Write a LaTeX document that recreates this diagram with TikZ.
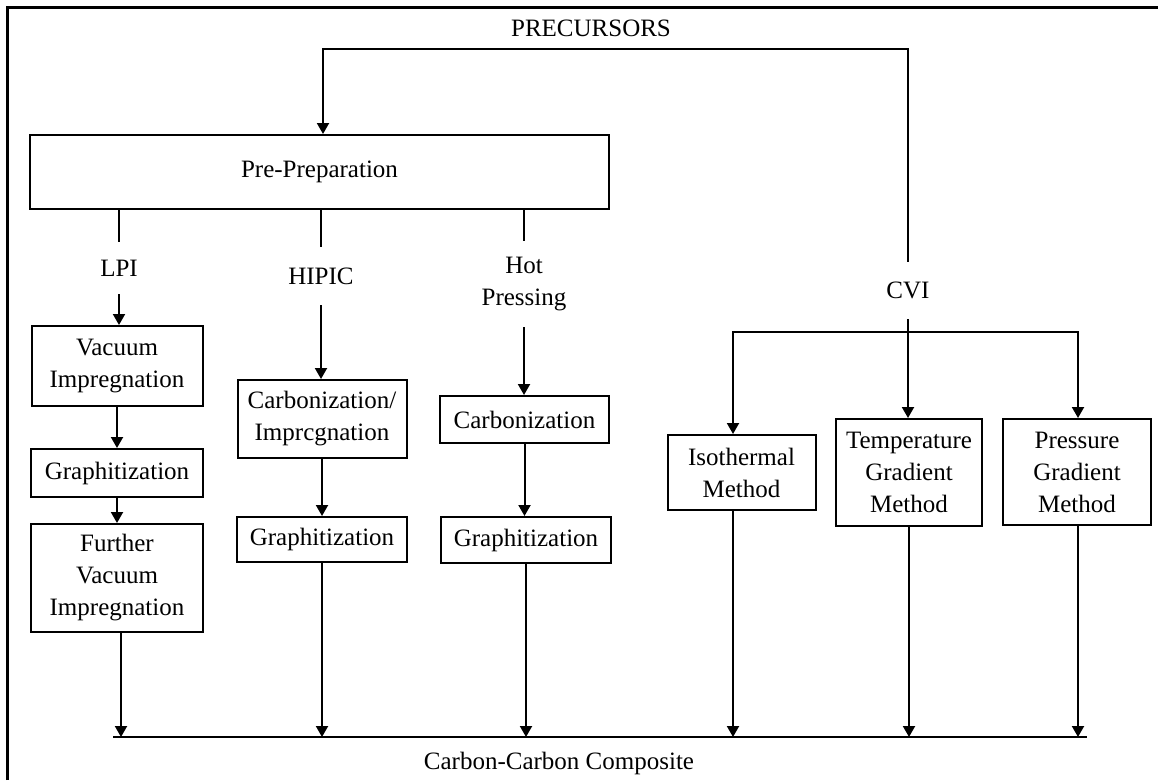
\documentclass[tikz,border=0pt]{standalone}
\usepackage{fontspec}
\setmainfont{Liberation Serif}
\usetikzlibrary{arrows.meta,calc}
\begin{document}
\begin{tikzpicture}[x=1pt,y=-1pt,
  every node/.style={font=\fontsize{25}{32}\selectfont},
  box/.style={draw, line width=2pt, inner sep=0pt, align=center, anchor=center},
  lab/.style={inner sep=0pt, align=center},
  conn/.style={line width=2pt},
  arr/.style={line width=2pt, -{Triangle[length=11pt,width=12pt]}},
]
\useasboundingbox (0,0) rectangle (1158,780);
\draw[line width=3pt] (7,780) -- (7,7) -- (1158,7);

% labels
\node[lab] (prec) at (591,28) {PRECURSORS};
\node[lab, minimum height=52pt] (lpi) at (119,268) {LPI};
\node[lab, minimum height=58pt] (hipic) at (321,276) {HIPIC};
\node[lab, minimum height=86pt] (hot) at (524,284) {Hot\\Pressing};
\node[lab, minimum height=57pt] (cvi) at (908,290.5) {CVI};
\node[lab] (ccc) at (559,763) {Carbon-Carbon Composite};

% boxes
\node[box, minimum width=171pt, minimum height=80pt] (vi) at (117,366) {Vacuum\\Impregnation};
\node[box, minimum width=579pt, minimum height=74pt] (pre) at (319.5,172) {Pre-Preparation};
\node[box, minimum width=172pt, minimum height=48pt] (g1) at (117,473) {Graphitization};
\node[box, minimum width=172pt, minimum height=108pt] (fvi) at (117,578) {Further\\Vacuum\\Impregnation};
\node[box, minimum width=169pt, minimum height=78pt] (ci) at (322,419) {Carbonization/\\Imprcgnation};
\node[box, minimum width=170pt, minimum height=45pt] (g2) at (322,539.5) {Graphitization};
\node[box, minimum width=169pt, minimum height=47pt] (cb) at (524.5,419.5) {Carbonization};
\node[box, minimum width=170pt, minimum height=46pt] (g3) at (526,540) {Graphitization};
\node[box, minimum width=148pt, minimum height=75pt] (iso) at (741.5,472.5) {Isothermal\\Method};
\node[box, minimum width=146pt, minimum height=107pt] (tg) at (909,472.5) {Temperature\\Gradient\\Method};
\node[box, minimum width=148pt, minimum height=106pt] (pg) at (1077,472) {Pressure\\Gradient\\Method};

% free-end coordinates
\coordinate (pl) at (323,49);
\coordinate (pr) at (908,49);
\coordinate (cl) at (733,332);
\coordinate (cr) at (1078,332);
\coordinate (bl) at (113,737);
\coordinate (br) at (1087,737);

% precursors
\draw[arr] (cvi.north) -- (pr) -- (pl) -- (pl |- pre.north);

% LPI
\draw[conn] (pre.south -| lpi) -- (lpi.north);
\draw[arr] (lpi.south) -- (lpi.south |- vi.north);
\draw[arr] (vi.south) -- (vi.south |- g1.north);
\draw[arr] (g1.south) -- (g1.south |- fvi.north);
\draw[arr] ($(fvi.south)+(4,0)$) -- ($(fvi.south |- bl)+(4,0)$);

% HIPIC
\draw[conn] (pre.south -| hipic) -- (hipic.north);
\draw[arr] (hipic.south) -- (hipic.south |- ci.north);
\draw[arr] (ci.south) -- (ci.south |- g2.north);
\draw[arr] (g2.south) -- (g2.south |- bl);

% Hot pressing
\draw[conn] (pre.south -| hot) -- (hot.north);
\draw[arr] (hot.south) -- (hot.south |- cb.north);
\draw[arr] (cb.south) -- (cb.south |- g3.north);
\draw[arr] (g3.south) -- (g3.south |- bl);

% CVI
\draw[arr] (cvi.south) -- (cvi.south |- tg.north);
\draw[arr] (cr) -- (cl) -- (cl |- iso.north);
\draw[arr] (cl) -- (cr) -- (cr |- pg.north);
\draw[arr] (iso.south -| cl) -- (cl |- bl);
\draw[arr] (tg.south) -- (tg.south |- bl);
\draw[arr] (pg.south -| cr) -- (cr |- bl);

% bottom bar
\draw[conn] (bl) -- (br);
\end{tikzpicture}
\end{document}
